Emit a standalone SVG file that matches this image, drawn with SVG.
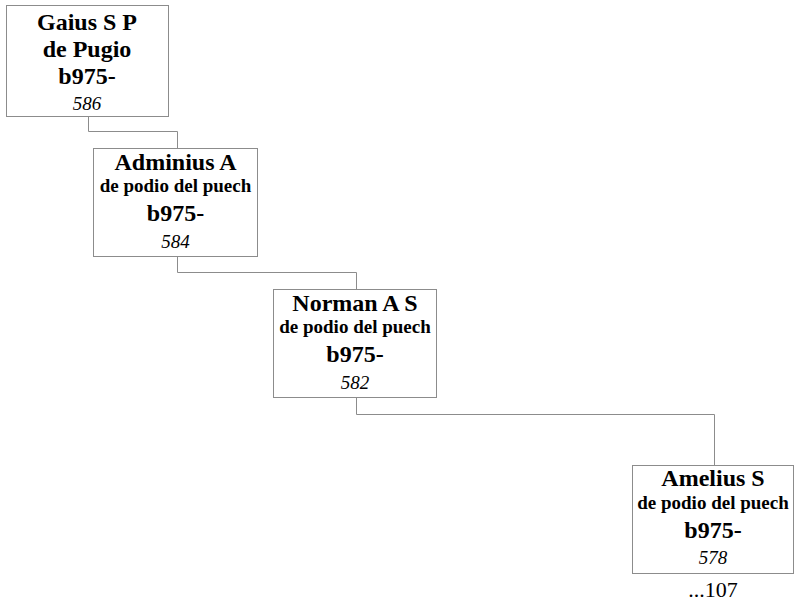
<svg xmlns="http://www.w3.org/2000/svg" width="794" height="605" viewBox="0 0 794 605">
<style>
.box{fill:#fff;stroke:#8c8c8c;stroke-width:1}
.con{fill:none;stroke:#8c8c8c;stroke-width:1}
text{font-family:'Liberation Serif','Times New Roman',Times,serif;text-anchor:middle;fill:#000}
.nm{font-weight:bold;font-size:24px}
.sub{font-weight:bold;font-size:19px}
.num{font-style:italic;font-size:19px}
.more{font-size:22px}
</style>
<rect width="794" height="605" fill="#fff"/>
<g id="connectors">
<path class="con" d="M88.5,117 V131.5 H177.5 V148"/>
<path class="con" d="M177.5,257 V272.5 H356.5 V289"/>
<path class="con" d="M356.5,398 V414.5 H714.5 V465"/>
</g>
<g id="n586">
<rect class="box" x="6.5" y="5.5" width="162" height="111"/>
<text class="nm" x="87" y="30">Gaius S P</text>
<text class="nm" x="87" y="57">de Pugio</text>
<text class="nm" x="87" y="84">b975-</text>
<text class="num" x="87" y="110">586</text>
</g>
<g id="n584">
<rect class="box" x="93.5" y="148.5" width="164" height="108"/>
<text class="nm" x="175.5" y="170">Adminius A</text>
<text class="sub" x="175.5" y="192">de podio del puech</text>
<text class="nm" x="175.5" y="221">b975-</text>
<text class="num" x="175.5" y="248">584</text>
</g>
<g id="n582">
<rect class="box" x="273.5" y="289.5" width="163" height="108"/>
<text class="nm" x="355" y="311">Norman A S</text>
<text class="sub" x="355" y="333">de podio del puech</text>
<text class="nm" x="355" y="362">b975-</text>
<text class="num" x="355" y="389">582</text>
</g>
<g id="n578">
<rect class="box" x="632.5" y="465.5" width="161" height="108"/>
<text class="nm" x="713" y="486">Amelius S</text>
<text class="sub" x="713" y="509">de podio del puech</text>
<text class="nm" x="713" y="538">b975-</text>
<text class="num" x="713" y="564">578</text>
<text class="more" x="713" y="597">...107</text>
</g>
</svg>
